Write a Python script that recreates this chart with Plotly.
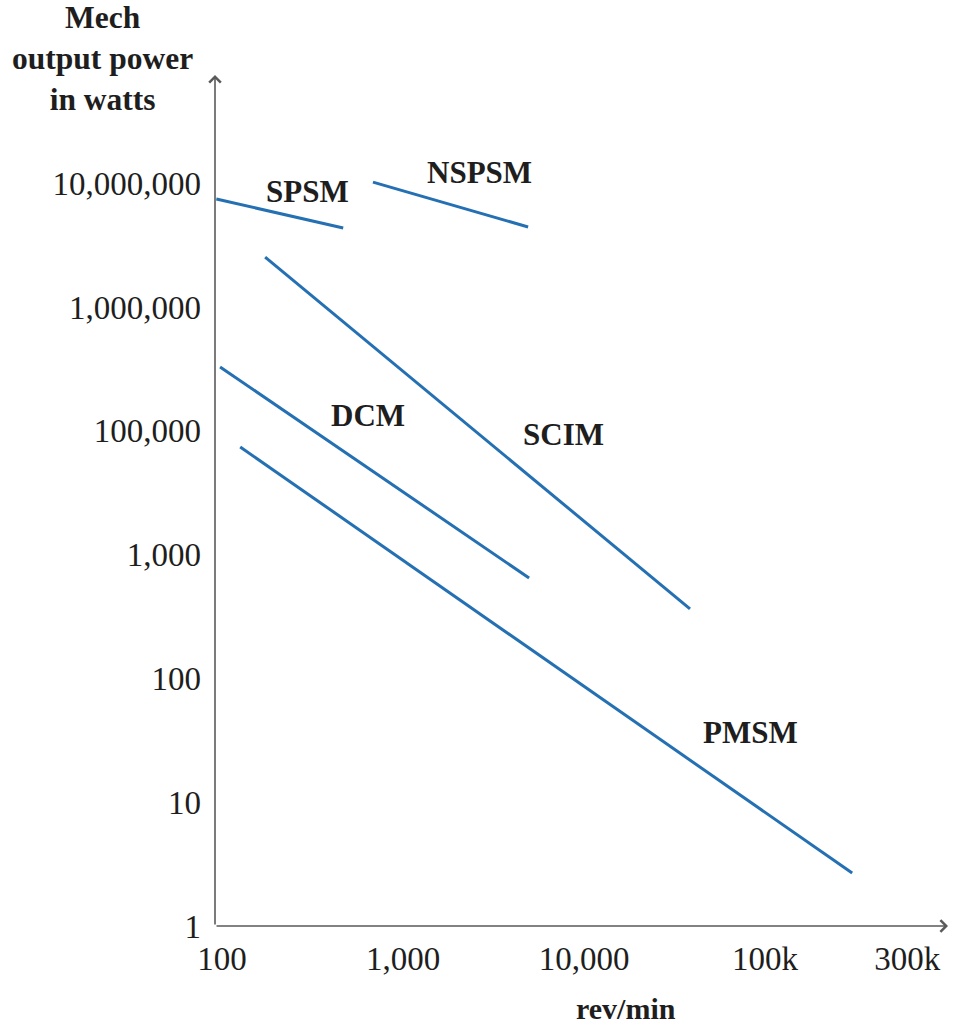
import math
import plotly.graph_objects as go

# ---- data (rpm on x, mechanical output power on y; y in axis units of the drawn log scale) ----
motor_names = ["SPSM", "NSPSM", "SCIM", "DCM", "PMSM"]
speed_start = [93, 682, 173, 97.5, 126]
speed_end = [467, 4910, 38500, 4970, 303000]
power_start = [745000, 1020000, 253000, 32800, 7400]
power_end = [435000, 443000, 364, 647, 2.68]

label_speed = [295, 2660, 7660, 641, 82600]
label_power = [850000, 1210000, 9420, 13200, 36.9]

x_tick_vals = [100, 1000, 10000, 100000, 610000]
x_tick_text = ["100", "1,000", "10,000", "100k", "300k"]
y_tick_vals = [1, 10, 100, 1000, 10000, 100000, 1000000]
y_tick_text = ["1", "10", "100", "1,000", "100,000", "1,000,000", "10,000,000"]

LINE_COLOR = "#2470b3"
AXIS_COLOR = "#5a5a5a"
TEXT_COLOR = "#1e1e1e"
SERIF = "Liberation Serif, Times New Roman, serif"

fig = go.Figure()
for i, name in enumerate(motor_names):
    fig.add_trace(go.Scatter(
        x=[speed_start[i], speed_end[i]],
        y=[power_start[i], power_end[i]],
        mode="lines",
        line=dict(color=LINE_COLOR, width=3),
        name=name,
        showlegend=False,
        hoverinfo="skip",
    ))
    fig.add_annotation(
        x=math.log10(label_speed[i]), y=math.log10(label_power[i]),
        xref="x", yref="y", text=f"<b>{name}</b>", showarrow=False,
        font=dict(family=SERIF, size=31, color=TEXT_COLOR),
        xanchor="center", yanchor="middle",
    )

# axis arrows
fig.add_annotation(x=1, y=0, xref="x domain", yref="y domain",
                   ax=0, ay=0, axref="x domain", ayref="y domain",
                   showarrow=True, arrowhead=4, arrowsize=1.4, arrowwidth=1.6,
                   arrowcolor=AXIS_COLOR, text="", standoff=0)
fig.add_annotation(x=0, y=1, xref="x domain", yref="y domain",
                   ax=0, ay=0, axref="x domain", ayref="y domain",
                   showarrow=True, arrowhead=4, arrowsize=1.4, arrowwidth=1.6,
                   arrowcolor=AXIS_COLOR, text="", standoff=0)

# axis titles
fig.add_annotation(x=(102 - 215) / 733, y=(926 - 58) / 851, xref="paper", yref="paper",
                   text="<b>Mech<br>output power<br>in watts</b>", showarrow=False,
                   font=dict(family=SERIF, size=31.5, color=TEXT_COLOR),
                   xanchor="center", yanchor="middle", align="center")
fig.add_annotation(x=(626 - 215) / 733, y=(926 - 1008) / 851, xref="paper", yref="paper",
                   text="<b>rev/min</b>", showarrow=False,
                   font=dict(family=SERIF, size=30, color=TEXT_COLOR),
                   xanchor="center", yanchor="middle")

fig.update_xaxes(
    type="log", range=[1.961, 6.011],
    tickvals=x_tick_vals, ticktext=x_tick_text,
    showgrid=False, zeroline=False, showline=False, ticks="",
    tickfont=dict(family=SERIF, size=33, color=TEXT_COLOR),
    ticklabelstandoff=10,
)
fig.update_yaxes(
    type="log", range=[0, 6.874],
    tickvals=y_tick_vals, ticktext=y_tick_text,
    showgrid=False, zeroline=False, showline=False, ticks="",
    tickfont=dict(family=SERIF, size=33, color=TEXT_COLOR),
    ticklabelstandoff=13,
)
fig.update_layout(
    width=953, height=1028,
    margin=dict(l=215, r=5, t=75, b=102),
    paper_bgcolor="white", plot_bgcolor="white",
)
fig.write_html("out.html")
